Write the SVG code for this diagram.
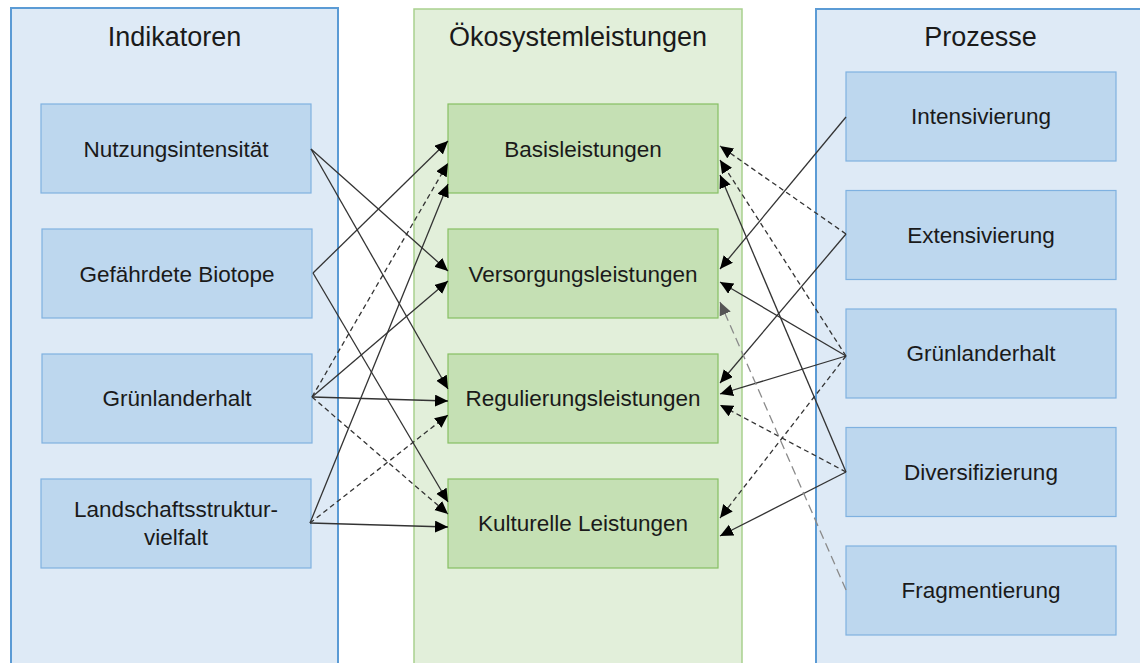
<svg xmlns="http://www.w3.org/2000/svg" width="1140" height="663" viewBox="0 0 1140 663">
  <style>
    .panel-blue { fill: #deeaf6; stroke: #5b9bd5; stroke-width: 2; }
    .panel-green { fill: #e2efda; stroke: #a9d18e; stroke-width: 1.5; }
    .box-blue { fill: #bdd7ee; stroke: #7fb1e0; stroke-width: 1.2; }
    .box-green { fill: #c5e0b4; stroke: #86bf63; stroke-width: 1.2; }
    .head { font-family: "Liberation Sans", Arial, sans-serif; font-size: 27px; fill: #1a1a1a; text-anchor: middle; }
    .lbl { font-family: "Liberation Sans", Arial, sans-serif; font-size: 22.5px; fill: #1a1a1a; text-anchor: middle; }
    .c { fill: none; stroke: #333333; stroke-width: 1.3; marker-end: url(#arr); }
    .d { stroke-dasharray: 5 3.5; }
    .g { fill: none; stroke: #8a8a8a; stroke-width: 1.3; stroke-dasharray: 9 5; marker-end: url(#arrg); }
  </style>
  <defs>
    <marker id="arr" markerUnits="userSpaceOnUse" markerWidth="15" markerHeight="13" refX="13" refY="6" orient="auto">
      <path d="M0,0 L13,6 L0,12 z" fill="#000000"/>
    </marker>
    <marker id="arrg" markerUnits="userSpaceOnUse" markerWidth="15" markerHeight="13" refX="13" refY="6" orient="auto">
      <path d="M0,0 L13,6 L0,12 z" fill="#555555"/>
    </marker>
  </defs>

  <rect width="1140" height="663" fill="#ffffff"/>

  <!-- column panels -->
  <g id="panel-indikatoren">
    <rect class="panel-blue" x="11" y="8" width="327" height="670"/>
    <text class="head" x="174.5" y="46">Indikatoren</text>
  </g>
  <g id="panel-oekosystemleistungen">
    <rect class="panel-green" x="414" y="9" width="328" height="670"/>
    <text class="head" x="578" y="46">Ökosystemleistungen</text>
  </g>
  <g id="panel-prozesse">
    <rect class="panel-blue" x="816" y="9" width="330" height="670"/>
    <text class="head" x="980.5" y="46">Prozesse</text>
  </g>

  <!-- indicators -->
  <g id="ind-nutzung">
    <rect class="box-blue" x="41" y="104" width="270" height="89"/>
    <text class="lbl" x="176" y="157">Nutzungsintensität</text>
  </g>
  <g id="ind-biotope">
    <rect class="box-blue" x="42" y="229" width="270" height="89"/>
    <text class="lbl" x="177" y="282">Gefährdete Biotope</text>
  </g>
  <g id="ind-gruenland">
    <rect class="box-blue" x="42" y="354" width="270" height="89"/>
    <text class="lbl" x="177" y="406">Grünlanderhalt</text>
  </g>
  <g id="ind-landschaft">
    <rect class="box-blue" x="41" y="479" width="270" height="89"/>
    <text class="lbl" x="176" y="517">Landschaftsstruktur-</text>
    <text class="lbl" x="176" y="545">vielfalt</text>
  </g>

  <!-- ecosystem services -->
  <g id="es-basis">
    <rect class="box-green" x="448" y="104" width="270" height="89"/>
    <text class="lbl" x="583" y="157">Basisleistungen</text>
  </g>
  <g id="es-versorgung">
    <rect class="box-green" x="448" y="229" width="270" height="89"/>
    <text class="lbl" x="583" y="282">Versorgungsleistungen</text>
  </g>
  <g id="es-regulierung">
    <rect class="box-green" x="448" y="354" width="270" height="89"/>
    <text class="lbl" x="583" y="406">Regulierungsleistungen</text>
  </g>
  <g id="es-kultur">
    <rect class="box-green" x="448" y="479" width="270" height="89"/>
    <text class="lbl" x="583" y="531">Kulturelle Leistungen</text>
  </g>

  <!-- processes -->
  <g id="pr-intensivierung">
    <rect class="box-blue" x="846" y="72" width="270" height="89"/>
    <text class="lbl" x="981" y="124">Intensivierung</text>
  </g>
  <g id="pr-extensivierung">
    <rect class="box-blue" x="846" y="190.5" width="270" height="89"/>
    <text class="lbl" x="981" y="243">Extensivierung</text>
  </g>
  <g id="pr-gruenland">
    <rect class="box-blue" x="846" y="309" width="270" height="89"/>
    <text class="lbl" x="981" y="361">Grünlanderhalt</text>
  </g>
  <g id="pr-diversifizierung">
    <rect class="box-blue" x="846" y="427.5" width="270" height="89"/>
    <text class="lbl" x="981" y="480">Diversifizierung</text>
  </g>
  <g id="pr-fragmentierung">
    <rect class="box-blue" x="846" y="546" width="270" height="89"/>
    <text class="lbl" x="981" y="598">Fragmentierung</text>
  </g>

  <!-- connectors -->
  <g id="connectors">
    <!-- indicators to services -->
    <line class="c" x1="311" y1="149" x2="448" y2="271"/>
    <line class="c" x1="311" y1="149" x2="448" y2="389"/>
    <line class="c" x1="313" y1="273" x2="448" y2="141"/>
    <line class="c" x1="313" y1="273" x2="448" y2="502"/>
    <line class="c d" x1="312" y1="397" x2="448" y2="163"/>
    <line class="c" x1="312" y1="397" x2="448" y2="281"/>
    <line class="c" x1="312" y1="397" x2="448" y2="401"/>
    <line class="c d" x1="312" y1="397" x2="448" y2="514"/>
    <line class="c" x1="310" y1="523" x2="448" y2="184"/>
    <line class="c d" x1="310" y1="523" x2="448" y2="415"/>
    <line class="c" x1="310" y1="523" x2="448" y2="527"/>

    <!-- processes to services -->
    <line class="c" x1="846" y1="117" x2="720" y2="269"/>
    <line class="c d" x1="846" y1="234" x2="720" y2="146"/>
    <line class="c" x1="846" y1="234" x2="720" y2="383"/>
    <line class="c d" x1="846" y1="356" x2="720" y2="160"/>
    <line class="c" x1="846" y1="356" x2="720" y2="282"/>
    <line class="c" x1="846" y1="356" x2="720" y2="394"/>
    <line class="c d" x1="846" y1="356" x2="720" y2="518"/>
    <line class="c" x1="846" y1="472" x2="720" y2="175"/>
    <line class="c d" x1="846" y1="472" x2="720" y2="405"/>
    <line class="c" x1="846" y1="472" x2="720" y2="536"/>
    <line class="g" x1="846" y1="590" x2="720" y2="302"/>
  </g>
</svg>
